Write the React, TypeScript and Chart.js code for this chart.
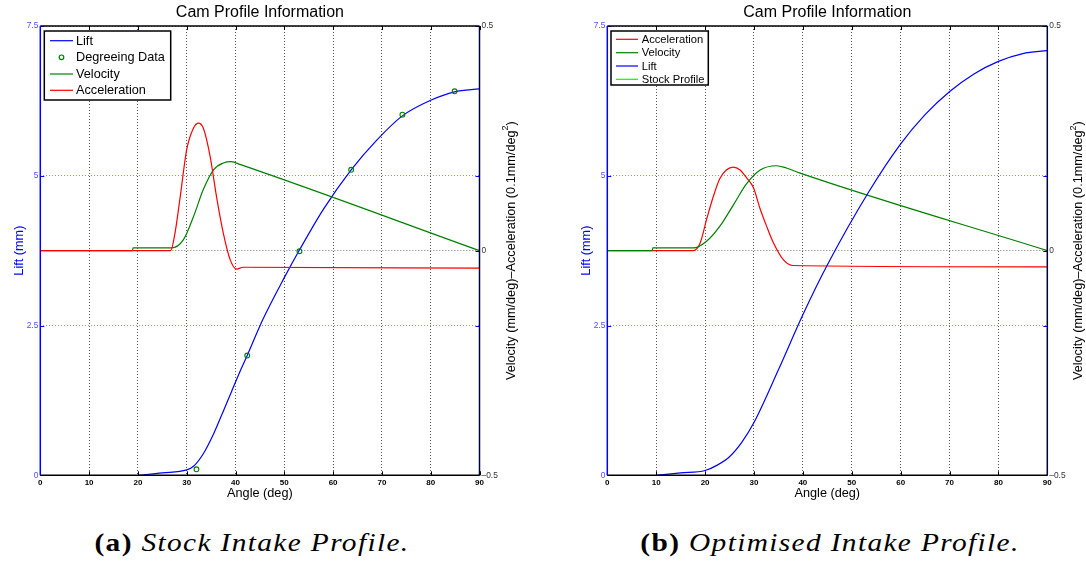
import React, { useEffect, useRef } from "react";
import { Chart, registerables } from "chart.js";
Chart.register(...registerables);

const FONT = '"Liberation Sans", Arial, Helvetica, sans-serif';

// ---------- shared tick labels ----------
const xTickValues = [0, 10, 20, 30, 40, 50, 60, 70, 80, 90];
const liftTicks = [0, 2.5, 5, 7.5];
const rateTicks = [-0.5, 0, 0.5];

// ---------- (a) Stock intake profile ----------
const stockLiftAngle = [20, 25, 30, 31.4, 33.4, 35.5, 37.5, 39.2, 40.9, 42.4, 45.6, 50, 53.1, 58, 63.7, 69, 74.2, 80, 84.9, 90];
const stockLift = [0, 0.04, 0.09, 0.15, 0.36, 0.69, 1.07, 1.4, 1.73, 2.0, 2.6, 3.3, 3.76, 4.44, 5.1, 5.6, 6.0, 6.26, 6.4, 6.45];

const degreeAngle = [32, 42.4, 53.1, 63.7, 74.2, 84.9];
const degreeLift = [0.1, 2.0, 3.74, 5.1, 6.02, 6.41];

const stockVelAngle = [0, 18.9, 19.0, 26.9, 29.3, 31.4, 33.4, 35.5, 37.5, 39.2, 40.9, 90];
const stockVel = [0, 0, 0.006, 0.006, 0.024, 0.076, 0.136, 0.18, 0.195, 0.198, 0.192, 0];

const stockAccAngle = [0, 26.7, 27.6, 28.6, 30, 31.4, 32.4, 33.4, 34.8, 36.1, 37.5, 38.9, 40.2, 41.6, 90];
const stockAcc = [0, 0, 0.039, 0.114, 0.225, 0.273, 0.284, 0.273, 0.21, 0.121, 0.039, -0.02, -0.041, -0.037, -0.039];

// ---------- (b) Optimised intake profile ----------
const optAccAngle = [0, 17.6, 19, 20.3, 21.7, 23, 24.4, 25.8, 27.1, 28.5, 29.9, 31.2, 32.6, 34, 36, 38, 90];
const optAcc = [0, 0, 0.017, 0.069, 0.121, 0.16, 0.18, 0.186, 0.18, 0.162, 0.14, 0.095, 0.054, 0.017, -0.02, -0.033, -0.036];

const optVelAngle = [0, 9.2, 9.3, 17.6, 20.3, 23, 25.8, 28.5, 31.2, 34.6, 36.6, 39.3, 90];
const optVel = [0, 0, 0.006, 0.006, 0.021, 0.054, 0.102, 0.149, 0.179, 0.189, 0.184, 0.173, 0];

const optLiftAngle = [10, 15, 20, 22.5, 25, 27.5, 30, 35, 40, 45, 53.4, 59.9, 65, 70.1, 75, 80, 85, 90];
const optLift = [0, 0.04, 0.08, 0.17, 0.31, 0.55, 0.88, 1.76, 2.68, 3.51, 4.72, 5.52, 6.02, 6.41, 6.7, 6.91, 7.04, 7.09];

const BLUE = "#0000ff";
const GREEN = "#008000";
const RED = "#ff0000";
const LIME = "#00ff00";

const pts = (xs: number[], ys: number[]) => xs.map((x, i) => ({ x, y: ys[i] }));

type LegendItem = { label: string; color: string; kind: "line" | "circle" };
type LegendBox = {
  x: number; y: number; w: number; h: number;
  rows: number[]; lineX0: number; lineX1: number; textX: number; font: number;
  items: LegendItem[];
};

function overlay(legend: LegendBox) {
  return {
    id: "overlay",
    afterDatasetsDraw(chart: any) {
      const ctx: CanvasRenderingContext2D = chart.ctx;
      const a = chart.chartArea;
      const xs = chart.scales.x, yl = chart.scales.yL, yr = chart.scales.yR;
      ctx.save();
      // inward tick marks
      ctx.lineWidth = 1;
      ctx.strokeStyle = "#000";
      ctx.beginPath();
      for (const v of xTickValues) {
        const px = Math.round(xs.getPixelForValue(v)) + 0.5;
        ctx.moveTo(px, a.bottom); ctx.lineTo(px, a.bottom - 4);
        ctx.moveTo(px, a.top); ctx.lineTo(px, a.top + 4);
      }
      for (const v of rateTicks) {
        const py = Math.round(yr.getPixelForValue(v)) + 0.5;
        ctx.moveTo(a.right, py); ctx.lineTo(a.right - 4, py);
      }
      ctx.stroke();
      ctx.strokeStyle = BLUE;
      ctx.beginPath();
      for (const v of liftTicks) {
        const py = Math.round(yl.getPixelForValue(v)) + 0.5;
        ctx.moveTo(a.left, py); ctx.lineTo(a.left + 4, py);
        ctx.moveTo(a.right, py); ctx.lineTo(a.right - 4, py);
      }
      ctx.stroke();
      // frame
      ctx.lineWidth = 1.5;
      ctx.strokeStyle = "#000";
      ctx.beginPath();
      ctx.moveTo(a.left, a.top); ctx.lineTo(a.right, a.top);
      ctx.moveTo(a.left, a.bottom); ctx.lineTo(a.right, a.bottom);
      ctx.stroke();
      ctx.strokeStyle = "#000040";
      ctx.beginPath();
      ctx.moveTo(a.right, a.top); ctx.lineTo(a.right, a.bottom);
      ctx.stroke();
      ctx.strokeStyle = BLUE;
      ctx.beginPath();
      ctx.moveTo(a.left, a.top); ctx.lineTo(a.left, a.bottom);
      ctx.stroke();

      // legend
      ctx.fillStyle = "#fff";
      ctx.fillRect(legend.x, legend.y, legend.w, legend.h);
      ctx.lineWidth = 1.5;
      ctx.strokeStyle = "#000";
      ctx.strokeRect(legend.x, legend.y, legend.w, legend.h);
      ctx.font = `${legend.font}px ${FONT}`;
      ctx.textAlign = "left";
      ctx.textBaseline = "middle";
      legend.items.forEach((it, i) => {
        const yy = legend.rows[i];
        ctx.strokeStyle = it.color;
        ctx.lineWidth = 1.2;
        if (it.kind === "line") {
          ctx.beginPath();
          ctx.moveTo(legend.lineX0, yy); ctx.lineTo(legend.lineX1, yy);
          ctx.stroke();
        } else {
          ctx.beginPath();
          ctx.arc((legend.lineX0 + legend.lineX1) / 2, yy, 2.3, 0, Math.PI * 2);
          ctx.stroke();
        }
        ctx.fillStyle = "#000";
        ctx.fillText(it.label, legend.textX, yy + 0.5);
      });

      // titles
      const cx = (a.left + a.right) / 2;
      const cy = (a.top + a.bottom) / 2;
      ctx.fillStyle = "#000";
      ctx.textAlign = "center";
      ctx.font = `16px ${FONT}`;
      ctx.fillText("Cam Profile Information", cx, 13);
      ctx.font = `12.7px ${FONT}`;
      ctx.fillText("Angle (deg)", cx, 493);

      ctx.save();
      ctx.translate(19, cy);
      ctx.rotate(-Math.PI / 2);
      ctx.fillStyle = BLUE;
      ctx.fillText("Lift (mm)", 0, 0);
      ctx.restore();

      ctx.save();
      ctx.translate(a.right + 31.5, cy);
      ctx.rotate(-Math.PI / 2);
      ctx.fillStyle = "#000";
      const p1 = "Velocity (mm/deg)\u2013Acceleration (0.1mm/deg";
      const p2 = "2";
      const p3 = ")";
      ctx.font = `12.7px ${FONT}`;
      const w1 = ctx.measureText(p1).width;
      const w3 = ctx.measureText(p3).width;
      ctx.font = `9px ${FONT}`;
      const w2 = ctx.measureText(p2).width;
      let sx = -(w1 + w2 + w3) / 2;
      ctx.textAlign = "left";
      ctx.font = `12.7px ${FONT}`;
      ctx.fillText(p1, sx, 0);
      sx += w1;
      ctx.font = `9px ${FONT}`;
      ctx.fillText(p2, sx, -5);
      sx += w2;
      ctx.font = `12.7px ${FONT}`;
      ctx.fillText(p3, sx, 0);
      ctx.restore();

      ctx.restore();
    },
  };
}

function scales(rightWidth: number) {
  return {
    x: {
      type: "linear",
      min: 0,
      max: 90,
      afterBuildTicks: (s: any) => { s.ticks = xTickValues.map((v) => ({ value: v })); },
      afterFit: (s: any) => { s.height = 24.7; },
      ticks: { font: { family: FONT, size: 8, weight: "bold" }, color: "#000", padding: 3, maxRotation: 0 },
      grid: { color: "#555", drawTicks: false, lineWidth: 1 },
      border: { display: false, dash: [1, 2] },
    },
    yL: {
      type: "linear",
      position: "left",
      min: 0,
      max: 7.5,
      afterBuildTicks: (s: any) => { s.ticks = liftTicks.map((v) => ({ value: v })); },
      afterFit: (s: any) => { s.width = 40.3; },
      ticks: { font: { family: FONT, size: 8.4 }, color: "#4d4dff", padding: 2 },
      grid: { color: "#8c8cff", drawTicks: false, lineWidth: 1 },
      border: { display: false, dash: [1, 2] },
    },
    yR: {
      type: "linear",
      position: "right",
      min: -0.5,
      max: 0.5,
      afterBuildTicks: (s: any) => { s.ticks = rateTicks.map((v) => ({ value: v })); },
      afterFit: (s: any) => { s.width = rightWidth; },
      ticks: {
        font: { family: FONT, size: 8.4 },
        color: "#333",
        padding: 2,
        callback: (v: number) => (v < 0 ? "\u2013" + String(-v) : String(v)),
      },
      grid: {
        color: (c: any) => (c.tick && c.tick.value === 0 ? "#777" : "rgba(0,0,0,0)"),
        drawTicks: false,
        lineWidth: 1,
      },
      border: { display: false, dash: [1, 2] },
    },
  };
}

const lineDs = (label: string, xs: number[], ys: number[], color: string, axis: string, order: number) => ({
  label,
  data: pts(xs, ys),
  borderColor: color,
  backgroundColor: color,
  borderWidth: 1.2,
  pointRadius: 0,
  cubicInterpolationMode: "monotone",
  yAxisID: axis,
  order,
});

function configA() {
  return {
    type: "line",
    data: {
      datasets: [
        lineDs("Lift", stockLiftAngle, stockLift, BLUE, "yL", 4),
        {
          label: "Degreeing Data",
          data: pts(degreeAngle, degreeLift),
          showLine: false,
          pointRadius: 2.4,
          pointBorderWidth: 1.1,
          borderColor: GREEN,
          backgroundColor: "rgba(0,0,0,0)",
          pointBackgroundColor: "rgba(0,0,0,0)",
          yAxisID: "yL",
          order: 3,
        },
        lineDs("Velocity", stockVelAngle, stockVel, GREEN, "yR", 2),
        lineDs("Acceleration", stockAccAngle, stockAcc, RED, "yR", 1),
      ],
    },
    options: {
      responsive: false,
      animation: false,
      layout: { padding: { top: 26, left: 0, right: 0, bottom: 0 } },
      plugins: { legend: { display: false }, title: { display: false }, tooltip: { enabled: false } },
      scales: scales(65.5),
    },
    plugins: [
      overlay({
        x: 44.3, y: 31, w: 126.4, h: 69,
        rows: [40.7, 57.3, 74, 90.3],
        lineX0: 50, lineX1: 73, textX: 76, font: 12.7,
        items: [
          { label: "Lift", color: BLUE, kind: "line" },
          { label: "Degreeing Data", color: GREEN, kind: "circle" },
          { label: "Velocity", color: GREEN, kind: "line" },
          { label: "Acceleration", color: RED, kind: "line" },
        ],
      }),
    ],
  };
}

function configB() {
  return {
    type: "line",
    data: {
      datasets: [
        lineDs("Acceleration", optAccAngle, optAcc, RED, "yR", 3),
        lineDs("Velocity", optVelAngle, optVel, GREEN, "yR", 2),
        lineDs("Lift", optLiftAngle, optLift, BLUE, "yL", 1),
        { label: "Stock Profile", data: [], borderColor: LIME, yAxisID: "yL", pointRadius: 0 },
      ],
    },
    options: {
      responsive: false,
      animation: false,
      layout: { padding: { top: 26, left: 0, right: 0, bottom: 0 } },
      plugins: { legend: { display: false }, title: { display: false }, tooltip: { enabled: false } },
      scales: scales(38.7),
    },
    plugins: [
      overlay({
        x: 44, y: 31, w: 97.3, h: 54,
        rows: [39.3, 52.7, 66, 79.3],
        lineX0: 49, lineX1: 71, textX: 74.7, font: 11.2,
        items: [
          { label: "Acceleration", color: RED, kind: "line" },
          { label: "Velocity", color: GREEN, kind: "line" },
          { label: "Lift", color: BLUE, kind: "line" },
          { label: "Stock Profile", color: LIME, kind: "line" },
        ],
      }),
    ],
  };
}

const captionStyle: React.CSSProperties = {
  position: "absolute",
  top: 527,
  width: 500,
  textAlign: "center",
  fontFamily: '"Liberation Serif", "Times New Roman", serif',
  fontSize: 26,
  lineHeight: "32px",
  whiteSpace: "nowrap",
  color: "#000",
  letterSpacing: 1.2,
  transform: "scaleX(1.13)",
  transformOrigin: "50% 50%",
};

export default function App() {
  const r1 = useRef<HTMLCanvasElement>(null);
  const r2 = useRef<HTMLCanvasElement>(null);
  useEffect(() => {
    const c1 = new Chart(r1.current as HTMLCanvasElement, configA() as any);
    const c2 = new Chart(r2.current as HTMLCanvasElement, configB() as any);
    return () => {
      c1.destroy();
      c2.destroy();
    };
  }, []);
  return (
    <div style={{ position: "absolute", left: 0, top: 0, width: 1086, height: 587, background: "#fff", overflow: "hidden" }}>
      <canvas ref={r1} width={545} height={500} style={{ position: "absolute", left: 0, top: 0, width: 545, height: 500 }} />
      <canvas ref={r2} width={519} height={500} style={{ position: "absolute", left: 567, top: 0, width: 519, height: 500 }} />
      <div style={{ ...captionStyle, left: 252 - 250 }}>
        <b style={{ fontStyle: "normal" }}>(a)</b> <i>Stock Intake Profile.</i>
      </div>
      <div style={{ ...captionStyle, left: 830 - 250 }}>
        <b style={{ fontStyle: "normal" }}>(b)</b> <i>Optimised Intake Profile.</i>
      </div>
    </div>
  );
}
